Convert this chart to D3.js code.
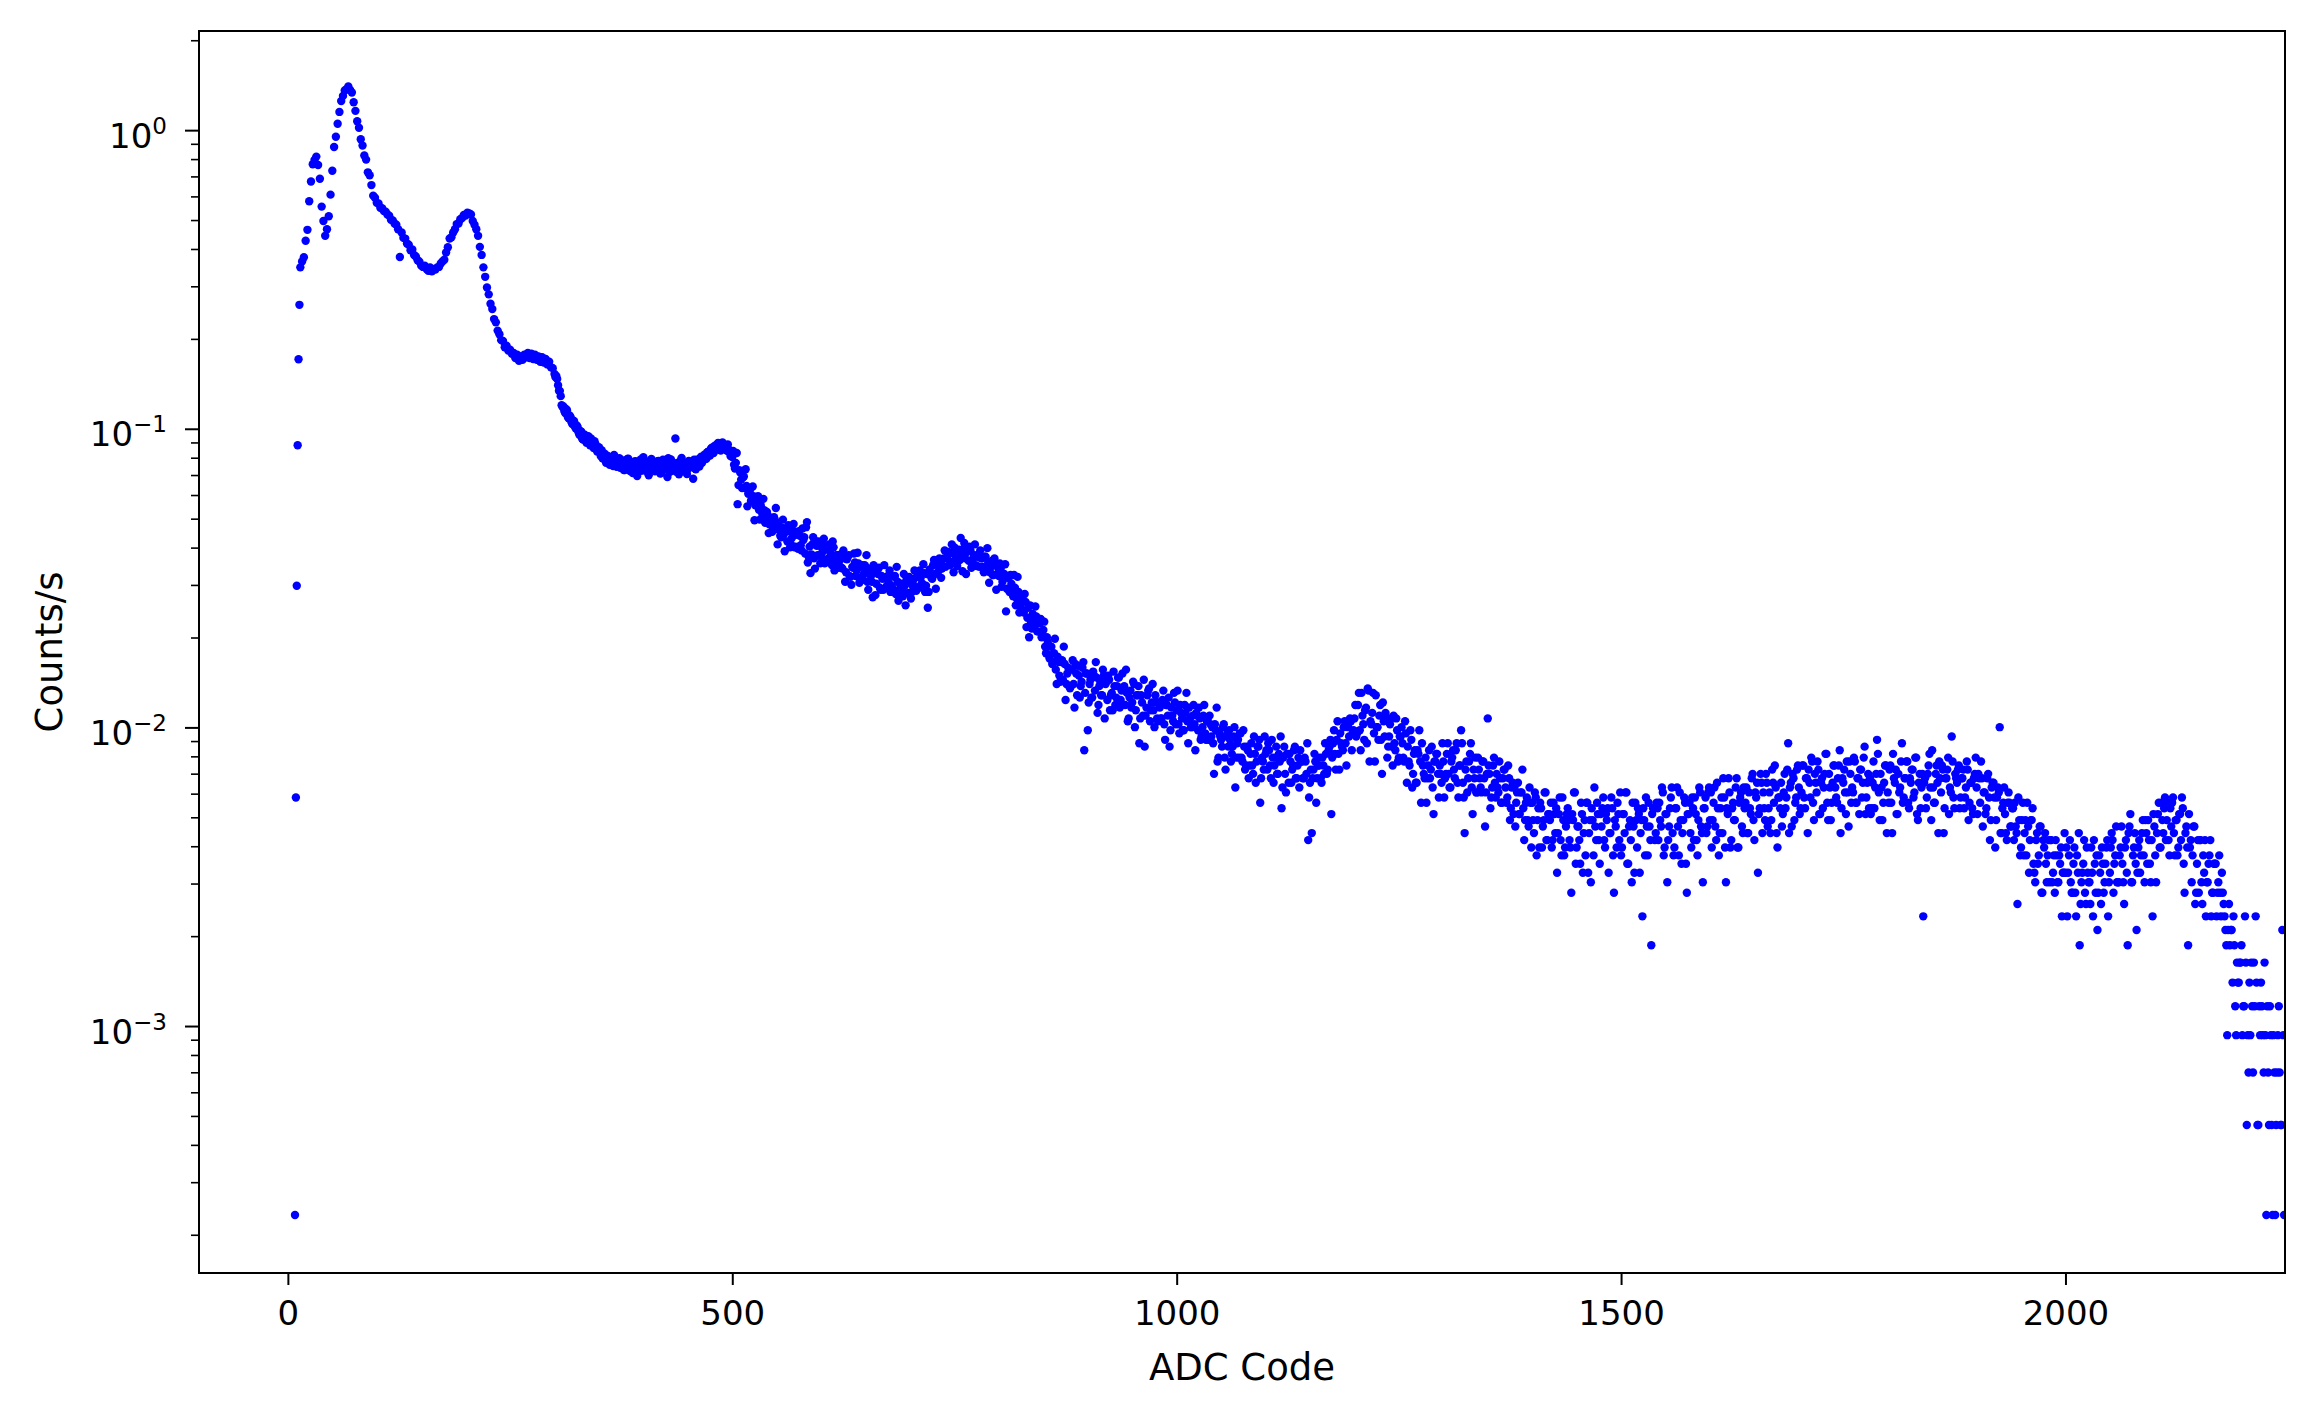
<!DOCTYPE html>
<html>
<head>
<meta charset="utf-8">
<script src="https://cdn.jsdelivr.net/npm/d3@7"></script>
<style>
  body { margin: 0; background: #fff; }
  text { font-family: "DejaVu Sans", sans-serif; fill: #000; }
</style>
</head>
<body>
<svg></svg>
<script>
// spectrum, counts per ADC code, divided by live time to give counts/s
const liveTime = 4292 // seconds (1 count = 2.33e-4 counts/s)

// first few codes, one per code
const codesA = [8, 9, 10, 11, 12, 13]
const countsA = [1, 25, 128, 378, 734, 1116]

// even codes 14..498
const startB = 14
const countsB = [
  1490, 1560, 1610, 1830, 1990, 2480, 2890, 3300, 3410, 3500,
  3280, 2950, 2380, 2130, 1900, 2000, 2210, 2610, 3140, 3770,
  4080, 4510, 4940, 5370, 5590, 5830, 5890, 6010, 5850, 5740,
  5320, 4980, 4600, 4370, 4000, 3810, 3530, 3420, 3100, 3030,
  2810, 2590, 2550, 2450, 2440, 2360, 2350, 2300, 2290, 2240,
  2220, 2150, 2140, 2090, 2070, 2000, 1614, 1950, 1870, 1860,
  1790, 1775, 1700, 1710, 1640, 1620, 1575, 1555, 1510, 1495,
  1510, 1470, 1450, 1490, 1445, 1470, 1465, 1490, 1495, 1535,
  1560, 1580, 1670, 1740, 1860, 1880, 1950, 2000, 2080, 2090,
  2160, 2180, 2230, 2220, 2270, 2260, 2240, 2130, 2070, 2000,
  1900, 1745, 1640, 1490, 1385, 1275, 1210, 1125, 1080, 1000,
  975, 915, 890, 850, 845, 805, 815, 785, 790, 765,
  770, 740, 760, 725, 750, 730, 760, 745, 770, 740,
  765, 735, 760, 730, 750, 720, 745, 715, 735, 705,
  720, 690, 685, 655, 645, 600, 575, 515, 510, 485,
  495, 465, 470, 445, 455, 430, 435, 410, 420, 395,
  410, 385, 405, 378, 392, 370, 382, 360, 372, 348,
  342, 355, 330, 348, 325, 340, 322, 338, 320, 334,
  318, 335, 312, 330, 340, 315, 328, 305, 333, 320,
  330, 310, 325, 345, 315, 322, 300, 336, 318, 328,
  312, 334, 320, 305, 338, 316, 327, 342, 308, 325,
  318, 398, 330, 302, 336, 321, 310, 329, 315, 326,
  328, 292, 316, 338, 325, 342, 330, 348, 340, 358,
  350, 368, 358, 376, 366, 385, 372, 384, 370, 378,
  362, 366, 348
]

// odd codes 301..499
const startOddB = 301
const countsOddB = [
  640, 630, 575, 552, 508, 492, 500, 470, 476, 452,
  458, 436, 440, 418, 422, 398, 410, 392, 404, 388,
  398, 376, 390, 370, 368, 358, 364, 341, 352, 336,
  345, 330, 337, 351, 322, 331, 342, 318, 336, 312,
  322, 341, 310, 327, 316, 334, 298, 325, 339, 311,
  320, 332, 306, 317, 340, 322, 309, 328, 335, 304,
  326, 314, 331, 296, 322, 339, 315, 324, 308, 330,
  317, 343, 312, 326, 303, 335, 319, 327, 338, 314,
  333, 321, 346, 337, 352, 341, 360, 349, 371, 356,
  366, 381, 374, 363, 386, 377, 368, 380, 358, 350
]

// even codes 500..1198
const startC = 500
const countsC = [
  345, 325, 330, 240, 312, 290, 295, 272, 276, 260,
  268, 250, 255, 238, 246, 230, 238, 222, 229, 212,
  220, 205, 216, 200, 212, 198, 204, 188, 200, 190,
  198, 180, 195, 176, 196, 172, 190, 170, 188, 168,
  182, 164, 209, 160, 141, 176, 158, 180, 162, 174,
  160, 175, 152, 170, 158, 166, 150, 172, 155, 162,
  150, 163, 146, 158, 142, 160, 138, 129, 147, 153,
  144, 152, 136, 150, 140, 148, 132, 146, 138, 117,
  143, 130, 140, 126, 138, 124, 136, 128, 131, 122,
  126, 137, 120, 132, 124, 130, 118, 128, 134, 121,
  131, 122, 134, 127, 138, 126, 136, 130, 141, 128,
  108, 145, 136, 150, 140, 152, 143, 156, 146, 158,
  148, 160, 150, 165, 154, 172, 158, 168, 156, 164,
  170, 158, 166, 155, 168, 152, 162, 150, 160, 148,
  158, 148, 160, 145, 153, 142, 155, 139, 150, 140,
  138, 146, 132, 140, 105, 136, 122, 130, 118, 126,
  116, 122, 110, 118, 104, 113, 100, 86, 96, 103,
  94, 101, 90, 96, 86, 91, 80, 86, 75, 80,
  70, 76, 67, 74, 64, 71, 62, 70, 60, 68,
  58, 67, 60, 70, 55, 64, 59, 68, 36, 65,
  42, 60, 54, 66, 57, 63, 51, 61, 55, 64,
  60, 53, 62, 55, 49, 59, 54, 63, 50, 57,
  58, 51, 56, 46, 57, 52, 60, 49, 55, 38,
  55, 47, 37, 50, 57, 45, 52, 49, 55, 46,
  52, 46, 53, 44, 51, 47, 37, 50, 45, 52,
  49, 44, 51, 46, 42, 48, 45, 50, 43, 47,
  44, 48, 42, 46, 40, 47, 41, 45, 39, 44,
  43, 30, 42, 33, 41, 39, 43, 34, 40, 37,
  39, 35, 40, 27, 38, 34, 41, 33, 37, 32,
  36, 32, 38, 30, 35, 33, 37, 24, 34, 31,
  35, 31, 36, 29, 34, 32, 37, 30, 33, 23,
  34, 30, 35, 28, 33, 31, 36, 29, 32, 27,
  33, 29, 34, 30, 18, 28, 19, 31, 33, 29,
  32, 29, 34, 30, 35, 31, 37, 22, 38, 35,
  39, 35, 41, 37, 43, 38, 44, 40, 45, 41
]

// odd codes 501..1199
const startOddC = 501
const countsOddC = [
  362, 316, 356, 278, 306, 272, 297, 314, 236, 264,
  246, 275, 212, 250, 255, 213, 228, 250, 208, 226,
  192, 215, 194, 217, 233, 176, 197, 186, 213, 167,
  198, 204, 172, 185, 206, 173, 190, 195, 175, 199,
  186, 201, 153, 173, 163, 186, 146, 174, 180, 152,
  165, 184, 155, 171, 176, 157, 180, 144, 162, 147,
  156, 147, 168, 132, 157, 162, 137, 148, 164, 138,
  165, 131, 148, 134, 150, 162, 124, 140, 132, 150,
  119, 141, 147, 124, 135, 150, 126, 138, 144, 128,
  123, 138, 148, 114, 129, 123, 140, 110, 132, 137,
  116, 128, 144, 123, 137, 144, 130, 151, 122, 140,
  122, 140, 135, 156, 125, 150, 158, 136, 149, 168,
  158, 166, 150, 176, 142, 162, 149, 169, 185, 143,
  178, 140, 168, 173, 147, 158, 176, 149, 163, 168,
  158, 142, 160, 171, 131, 148, 139, 158, 124, 147,
  152, 127, 137, 151, 125, 136, 139, 123, 139, 110,
  137, 104, 115, 106, 120, 93, 108, 110, 92, 98,
  109, 90, 98, 99, 87, 97, 76, 83, 73, 80,
  71, 85, 60, 71, 61, 72, 80, 53, 65, 59,
  59, 72, 50, 65, 69, 54, 61, 71, 56, 65,
  52, 62, 54, 64, 71, 48, 59, 55, 67, 46,
  61, 64, 49, 56, 66, 51, 59, 63, 53, 65,
  59, 67, 45, 54, 50, 61, 43, 55, 59, 46,
  52, 62, 47, 55, 58, 49, 60, 43, 52, 45,
  50, 46, 57, 39, 51, 54, 42, 47, 56, 44,
  57, 41, 48, 42, 51, 56, 38, 46, 43, 51,
  36, 47, 50, 39, 43, 51, 39, 46, 47, 40,
  38, 44, 50, 34, 40, 37, 44, 31, 41, 42,
  33, 37, 43, 34, 39, 41, 34, 42, 31, 37,
  29, 35, 32, 40, 28, 37, 39, 29, 33, 40,
  36, 38, 32, 39, 28, 34, 30, 35, 40, 27,
  37, 26, 35, 35, 28, 32, 37, 29, 34, 36,
  33, 29, 33, 38, 25, 31, 29, 35, 24, 32,
  34, 28, 32, 38, 30, 36, 39, 34, 42, 31,
  45, 31, 38, 36, 45, 32, 43, 46, 36, 42
]

// even codes 1200..2246
const startD = 1200
const countsD = [
  46, 40, 51, 42, 56, 44, 49, 38, 57, 45,
  48, 41, 55, 43, 47, 39, 52, 40, 46, 37,
  44, 37, 47, 36, 42, 34, 40, 38, 33, 41,
  37, 32, 39, 30, 36, 28, 35, 33, 38, 30,
  34, 29, 36, 31, 27, 33, 35, 30, 32, 28,
  33, 29, 35, 30, 27, 34, 31, 36, 28, 32,
  42, 28, 19, 33, 29, 35, 27, 31, 34, 26,
  31, 27, 33, 29, 26, 46, 30, 25, 32, 28,
  30, 26, 29, 24, 31, 27, 25, 29, 23, 28,
  27, 24, 28, 22, 26, 23, 21, 25, 20, 24,
  24, 19, 25, 21, 17, 23, 20, 26, 18, 22,
  21, 17, 24, 19, 14, 22, 18, 25, 16, 20,
  23, 18, 12, 21, 26, 17, 20, 15, 22, 19,
  16, 24, 19, 13, 21, 27, 18, 22, 15, 20,
  25, 17, 21, 14, 19, 23, 12, 20, 24, 18,
  16, 22, 19, 26, 15, 21, 13, 20, 24, 17,
  22, 19, 10, 21, 25, 16, 20, 8, 23, 18,
  24, 18, 21, 27, 16, 22, 13, 20, 25, 19,
  17, 23, 20, 26, 15, 21, 24, 12, 22, 19,
  25, 18, 22, 16, 27, 20, 13, 23, 19, 26,
  21, 17, 24, 20, 28, 16, 23, 19, 25, 13,
  22, 26, 18, 24, 21, 29, 17, 25, 20, 27,
  24, 19, 26, 22, 30, 18, 25, 14, 23, 28,
  26, 21, 28, 23, 19, 31, 24, 27, 17, 25,
  28, 22, 30, 25, 38, 27, 20, 29, 24, 31,
  27, 23, 32, 25, 29, 19, 28, 34, 24, 30,
  26, 31, 22, 29, 27, 35, 24, 30, 21, 28,
  32, 25, 29, 36, 23, 28, 26, 33, 20, 30,
  27, 34, 24, 29, 22, 31, 28, 37, 25, 30,
  29, 23, 33, 27, 39, 26, 30, 21, 28, 32,
  26, 31, 24, 35, 28, 22, 30, 27, 38, 25,
  29, 33, 23, 28, 31, 26, 34, 21, 30, 27,
  10, 29, 25, 32, 27, 36, 24, 30, 28, 33,
  26, 31, 23, 29, 34, 27, 40, 25, 30, 28,
  32, 25, 29, 23, 27, 31, 24, 28, 22, 30,
  27, 30, 24, 29, 26, 22, 29, 25, 21, 28,
  25, 21, 27, 43, 19, 24, 22, 18, 26, 20,
  23, 18, 20, 11, 21, 17, 24, 19, 16, 20,
  18, 21, 15, 13, 19, 16, 20, 12, 17, 15,
  16, 13, 18, 14, 12, 16, 13, 15, 10, 14,
  14, 10, 16, 13, 12, 17, 10, 14, 8, 13,
  15, 12, 17, 13, 11, 14, 18, 12, 9, 16,
  11, 15, 13, 17, 10, 14, 19, 12, 16, 13,
  13, 17, 15, 11, 18, 8, 20, 13, 16, 19,
  9, 17, 14, 19, 16, 21, 15, 18, 13, 10,
  20, 13, 22, 17, 24, 19, 25, 21, 18, 23,
  24, 19, 21, 16, 22, 18, 23, 12, 20, 8,
  17, 13, 20, 11, 15, 12, 18, 11, 14, 10,
  13, 16, 10, 12, 15, 10, 13, 12, 14, 11,
  9, 4, 11, 9, 6, 8, 4, 6, 7, 8,
  5, 10, 2, 3, 4, 5, 7, 10, 2, 5,
  6, 4, 7, 1, 3, 5, 2, 4, 1, 3,
  5, 2, 9, 1
]

// odd codes 1201..2245
const startOddD = 1201
const countsOddD = [
  51, 41, 56, 36, 47, 39, 50, 58, 33, 44,
  56, 33, 43, 39, 51, 30, 45, 48, 34, 40,
  46, 32, 38, 46, 33, 40, 43, 34, 45, 28,
  33, 42, 27, 35, 28, 36, 42, 24, 32, 29,
  24, 32, 29, 37, 22, 33, 35, 25, 30, 38,
  25, 30, 38, 27, 33, 36, 29, 38, 25, 32,
  38, 25, 31, 26, 33, 38, 22, 29, 26, 34,
  29, 26, 33, 20, 30, 32, 23, 27, 34, 25,
  27, 33, 24, 29, 31, 24, 32, 21, 27, 22,
  20, 26, 22, 26, 31, 18, 24, 21, 27, 17,
  21, 26, 16, 23, 24, 17, 21, 26, 18, 22,
  24, 18, 22, 23, 19, 25, 16, 21, 17, 22,
  21, 17, 22, 26, 15, 20, 18, 24, 14, 21,
  24, 14, 21, 23, 16, 20, 24, 18, 22, 23,
  18, 22, 23, 19, 25, 16, 21, 17, 22, 26,
  17, 22, 26, 15, 20, 18, 24, 14, 21, 23,
  14, 21, 23, 16, 20, 24, 18, 22, 23, 19,
  23, 24, 20, 26, 17, 22, 18, 23, 27, 16,
  23, 27, 16, 21, 19, 25, 15, 22, 24, 17,
  23, 25, 18, 21, 26, 19, 23, 25, 20, 27,
  26, 21, 27, 18, 23, 19, 25, 29, 17, 23,
  29, 17, 23, 21, 27, 17, 24, 26, 19, 23,
  27, 19, 23, 29, 21, 26, 28, 22, 30, 19,
  23, 30, 20, 26, 21, 28, 32, 19, 25, 23,
  20, 26, 23, 31, 19, 28, 30, 21, 25, 32,
  22, 26, 32, 23, 29, 31, 25, 33, 21, 28,
  33, 22, 28, 23, 30, 35, 21, 27, 24, 32,
  27, 24, 32, 19, 29, 31, 22, 26, 33, 24,
  26, 33, 24, 29, 31, 25, 34, 22, 28, 23,
  22, 28, 23, 30, 35, 21, 27, 24, 32, 19,
  24, 32, 19, 29, 31, 22, 26, 33, 24, 29,
  33, 24, 29, 31, 25, 34, 22, 28, 23, 30,
  28, 23, 30, 35, 21, 27, 24, 32, 19, 29,
  32, 19, 29, 31, 22, 26, 33, 23, 29, 31,
  23, 29, 31, 25, 33, 21, 28, 23, 29, 34,
  22, 29, 33, 20, 26, 23, 30, 18, 27, 28,
  17, 25, 26, 19, 23, 27, 19, 24, 24, 20,
  23, 24, 19, 25, 16, 21, 16, 21, 24, 14,
  21, 23, 14, 18, 15, 20, 12, 18, 19, 13,
  18, 18, 13, 16, 18, 13, 16, 17, 14, 19,
  17, 14, 18, 12, 15, 12, 16, 19, 11, 14,
  18, 11, 14, 13, 17, 10, 15, 16, 12, 14,
  17, 12, 15, 18, 13, 17, 18, 15, 20, 13,
  16, 20, 13, 17, 14, 19, 22, 13, 17, 15,
  14, 18, 16, 21, 13, 19, 21, 15, 18, 22,
  16, 19, 24, 17, 21, 23, 18, 24, 16, 20,
  25, 16, 21, 17, 22, 25, 15, 19, 17, 22,
  18, 16, 20, 12, 18, 18, 13, 16, 18, 13,
  15, 18, 12, 15, 15, 12, 16, 10, 12, 10,
  8, 9, 8, 9, 10, 5, 7, 6, 7, 4,
  5, 7, 4, 6, 7, 3, 5, 6, 2, 4,
  5, 3, 4, 5, 2, 4, 1, 3, 2, 4,
  3, 2, 4
]

const xTicks = [0, 500, 1000, 1500, 2000]
const yTickExps = [-3, -2, -1, 0]

const svgWidth = 2314
const svgHeight = 1416
const margins = { top: 31, bottom: 143, left: 199, right: 29 }
const plotWidth = svgWidth - margins.left - margins.right
const plotHeight = svgHeight - margins.top - margins.bottom

const svg = d3.select("svg")
    .attr("width", svgWidth)
    .attr("height", svgHeight)

// gather all points
const points = []
const addRun = (start, counts) => {
    counts.forEach((c, i) => points.push({ code: start + 2 * i, rate: c / liveTime }))
}
countsA.forEach((c, i) => points.push({ code: codesA[i], rate: c / liveTime }))
addRun(startB, countsB)
addRun(startOddB, countsOddB)
addRun(startC, countsC)
addRun(startOddC, countsOddC)
addRun(startD, countsD)
addRun(startOddD, countsOddD)

const xScale = d3.scaleLinear()
    .domain([-100, 2247])
    .range([margins.left, margins.left + plotWidth])
const yScale = d3.scaleLog()
    .domain([Math.pow(10, -3.827), Math.pow(10, 0.332)])
    .range([margins.top + plotHeight, margins.top])

svg.append("defs").append("clipPath").attr("id", "plotclip")
    .append("rect")
    .attr("x", margins.left).attr("y", margins.top)
    .attr("width", plotWidth).attr("height", plotHeight)

svg.append("g")
    .attr("clip-path", "url(#plotclip)")
    .selectAll("circle")
    .data(points)
    .join("circle")
    .attr("cx", (d) => xScale(d.code))
    .attr("cy", (d) => yScale(d.rate))
    .attr("r", 4.2)
    .attr("fill", "#0000ff")

// x axis
const xAxis = svg.append("g")
    .attr("transform", `translate(0,${margins.top + plotHeight})`)
    .call(d3.axisBottom(xScale).tickValues(xTicks).tickSize(12).tickPadding(16).tickFormat(d3.format("d")))
xAxis.select(".domain").remove()
xAxis.selectAll(".tick line").attr("stroke", "#000").attr("stroke-width", 2)
xAxis.selectAll(".tick text").attr("font-size", 34).attr("font-family", "DejaVu Sans")

// y axis, minor ticks
const minors = []
for (let e = -4; e <= 0; e++) {
    for (let m = 2; m <= 9; m++) {
        const v = m * Math.pow(10, e)
        if (v > yScale.domain()[0] && v < yScale.domain()[1]) minors.push(v)
    }
}
const yMinor = svg.append("g")
    .attr("transform", `translate(${margins.left},0)`)
    .call(d3.axisLeft(yScale).tickValues(minors).tickSize(8).tickFormat(""))
yMinor.select(".domain").remove()
yMinor.selectAll(".tick line").attr("stroke", "#000").attr("stroke-width", 1.6)

// y axis, major ticks with 10^n labels
const majors = yTickExps.map((e) => Math.pow(10, e))
const yMajor = svg.append("g")
    .attr("transform", `translate(${margins.left},0)`)
    .call(d3.axisLeft(yScale).tickValues(majors).tickSize(14).tickFormat(""))
yMajor.select(".domain").remove()
yMajor.selectAll(".tick line").attr("stroke", "#000").attr("stroke-width", 2)
yMajor.selectAll(".tick").each(function (d) {
    const exp = Math.round(Math.log10(d))
    const t = d3.select(this).append("text")
        .attr("x", -32)
        .attr("y", 17)
        .attr("text-anchor", "end")
        .attr("font-size", 34)
        .attr("font-family", "DejaVu Sans")
    t.append("tspan").text("10")
    t.append("tspan")
        .attr("dy", -14)
        .attr("font-size", 23)
        .text(exp < 0 ? "\u2212" + Math.abs(exp) : String(exp))
})

// frame
svg.append("rect")
    .attr("x", margins.left)
    .attr("y", margins.top)
    .attr("width", plotWidth)
    .attr("height", plotHeight)
    .attr("fill", "none")
    .attr("stroke", "#000")
    .attr("stroke-width", 2)

svg.append("text")
    .text("ADC Code")
    .attr("x", margins.left + plotWidth / 2)
    .attr("y", 1380)
    .attr("text-anchor", "middle")
    .attr("font-size", 37)

svg.append("text")
    .text("Counts/s")
    .attr("transform", `translate(62,${margins.top + plotHeight / 2}) rotate(-90)`)
    .attr("text-anchor", "middle")
    .attr("font-size", 37)
</script>
</body>
</html>
